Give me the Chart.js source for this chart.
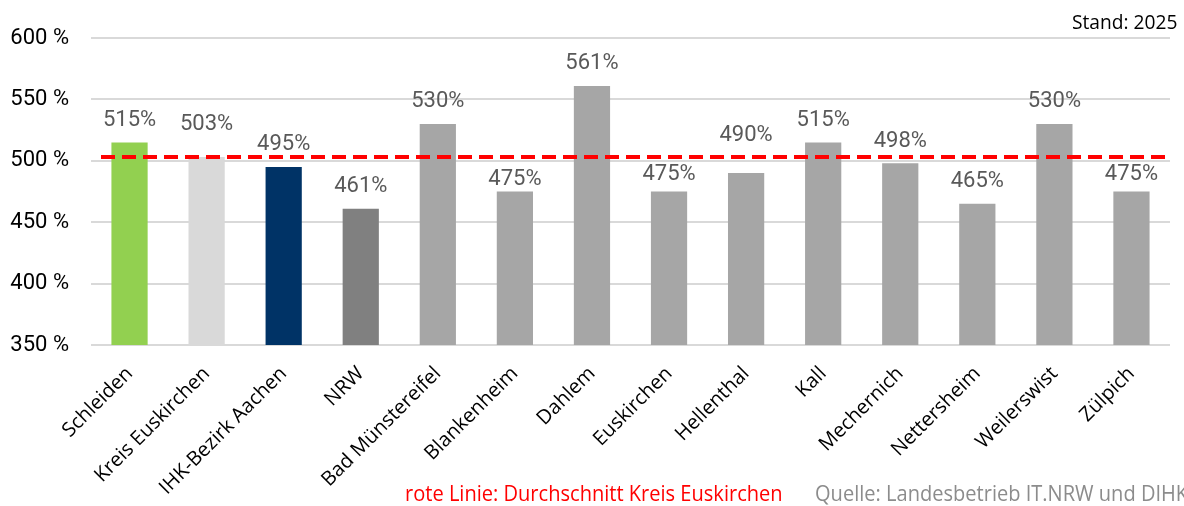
<!DOCTYPE html>
<html>
<head>
<meta charset="utf-8">
<script src="https://cdn.jsdelivr.net/npm/chart.js@4"></script>
<style>
  html, body { margin: 0; padding: 0; background: #fff; }
  #wrap { position: relative; width: 1184px; height: 506px; overflow: hidden; }
  .note { position: absolute; font-family: "Open Sans", sans-serif; white-space: nowrap; transform-origin: 0 0; }
</style>
</head>
<body>
<div id="wrap">
  <canvas id="hebesatz" width="1184" height="506"></canvas>
  <div class="note" style="left:1072px; top:8px; font-size:20px; color:#000; transform:scaleX(0.96);">Stand: 2025</div>
  <div class="note" style="left:405px; top:479px; font-size:21px; color:#ff0000; transform:scaleX(0.955);">rote Linie: Durchschnitt Kreis Euskirchen</div>
  <div class="note" style="left:815px; top:479px; font-size:21px; color:#8c8c8c; transform:scaleX(0.955);">Quelle: Landesbetrieb IT.NRW und DIHK</div>
</div>
<script>
let orte = ["Schleiden", "Kreis Euskirchen", "IHK-Bezirk Aachen", "NRW", "Bad Münstereifel",
    "Blankenheim", "Dahlem", "Euskirchen", "Hellenthal", "Kall", "Mechernich",
    "Nettersheim", "Weilerswist", "Zülpich"];
let hebesaetze = [515, 503, 495, 461, 530, 475, 561, 475, 490, 515, 498, 465, 530, 475];
let durchschnitt = 503;
let yTicks = [350, 400, 450, 500, 550, 600];

let barColors = ["#92d050", "#d9d9d9", "#003366", "#808080"];
while (barColors.length < orte.length) barColors.push("#a6a6a6");

// ein paar Beschriftungen sind im Original von Hand verschoben (wegen der roten Linie)
let labelShift = [0, 11, 0, 0, 0, -10, 0, -5, 16, 0, 0, 0, 0, -5];

// Werte über den Balken + rote Durchschnittslinie
let extras = {
    id: "extras",
    afterDatasetsDraw(chart) {
        let ctx = chart.ctx;
        let meta = chart.getDatasetMeta(0);
        ctx.save();
        ctx.font = "22px Roboto";
        ctx.fillStyle = "#595959";
        ctx.textAlign = "center";
        ctx.textBaseline = "bottom";
        meta.data.forEach((bar, i) => {
            ctx.fillText(hebesaetze[i] + "%", bar.x, bar.y - 11 - labelShift[i]);
        });
        let y = chart.scales.y.getPixelForValue(durchschnitt);
        ctx.strokeStyle = "#ff0000";
        ctx.lineWidth = 4;
        ctx.setLineDash([14, 7]);
        ctx.beginPath();
        ctx.moveTo(chart.chartArea.left + 10, y);
        ctx.lineTo(chart.chartArea.right, y);
        ctx.stroke();
        ctx.restore();
    }
};

new Chart("hebesatz", {
    type: "bar",
    data: {
        labels: orte,
        datasets: [{
            data: hebesaetze,
            backgroundColor: barColors,
            barPercentage: 0.47,
            categoryPercentage: 1
        }]
    },
    options: {
        responsive: false,
        animation: false,
        layout: { padding: { top: 38, right: 14, bottom: 0, left: 0 } },
        plugins: {
            legend: { display: false },
            tooltip: { enabled: false }
        },
        scales: {
            x: {
                grid: { display: false },
                border: { display: false },
                afterFit(scale) { scale.height = 161; },
                ticks: {
                    minRotation: 45,
                    maxRotation: 45,
                    color: "#000",
                    padding: 9,
                    font: { family: "Open Sans", size: 20 }
                }
            },
            y: {
                min: 350,
                max: 600,
                afterFit(scale) { scale.width = 91; },
                afterBuildTicks(scale) { scale.ticks = yTicks.map(v => ({ value: v })); },
                grid: { color: "#d9d9d9", lineWidth: 2, drawTicks: false },
                border: { display: false },
                ticks: {
                    color: "#000",
                    padding: 22,
                    font: { family: "Roboto", size: 22 },
                    callback: v => v + " %"
                }
            }
        }
    },
    plugins: [extras]
});
</script>
</body>
</html>
